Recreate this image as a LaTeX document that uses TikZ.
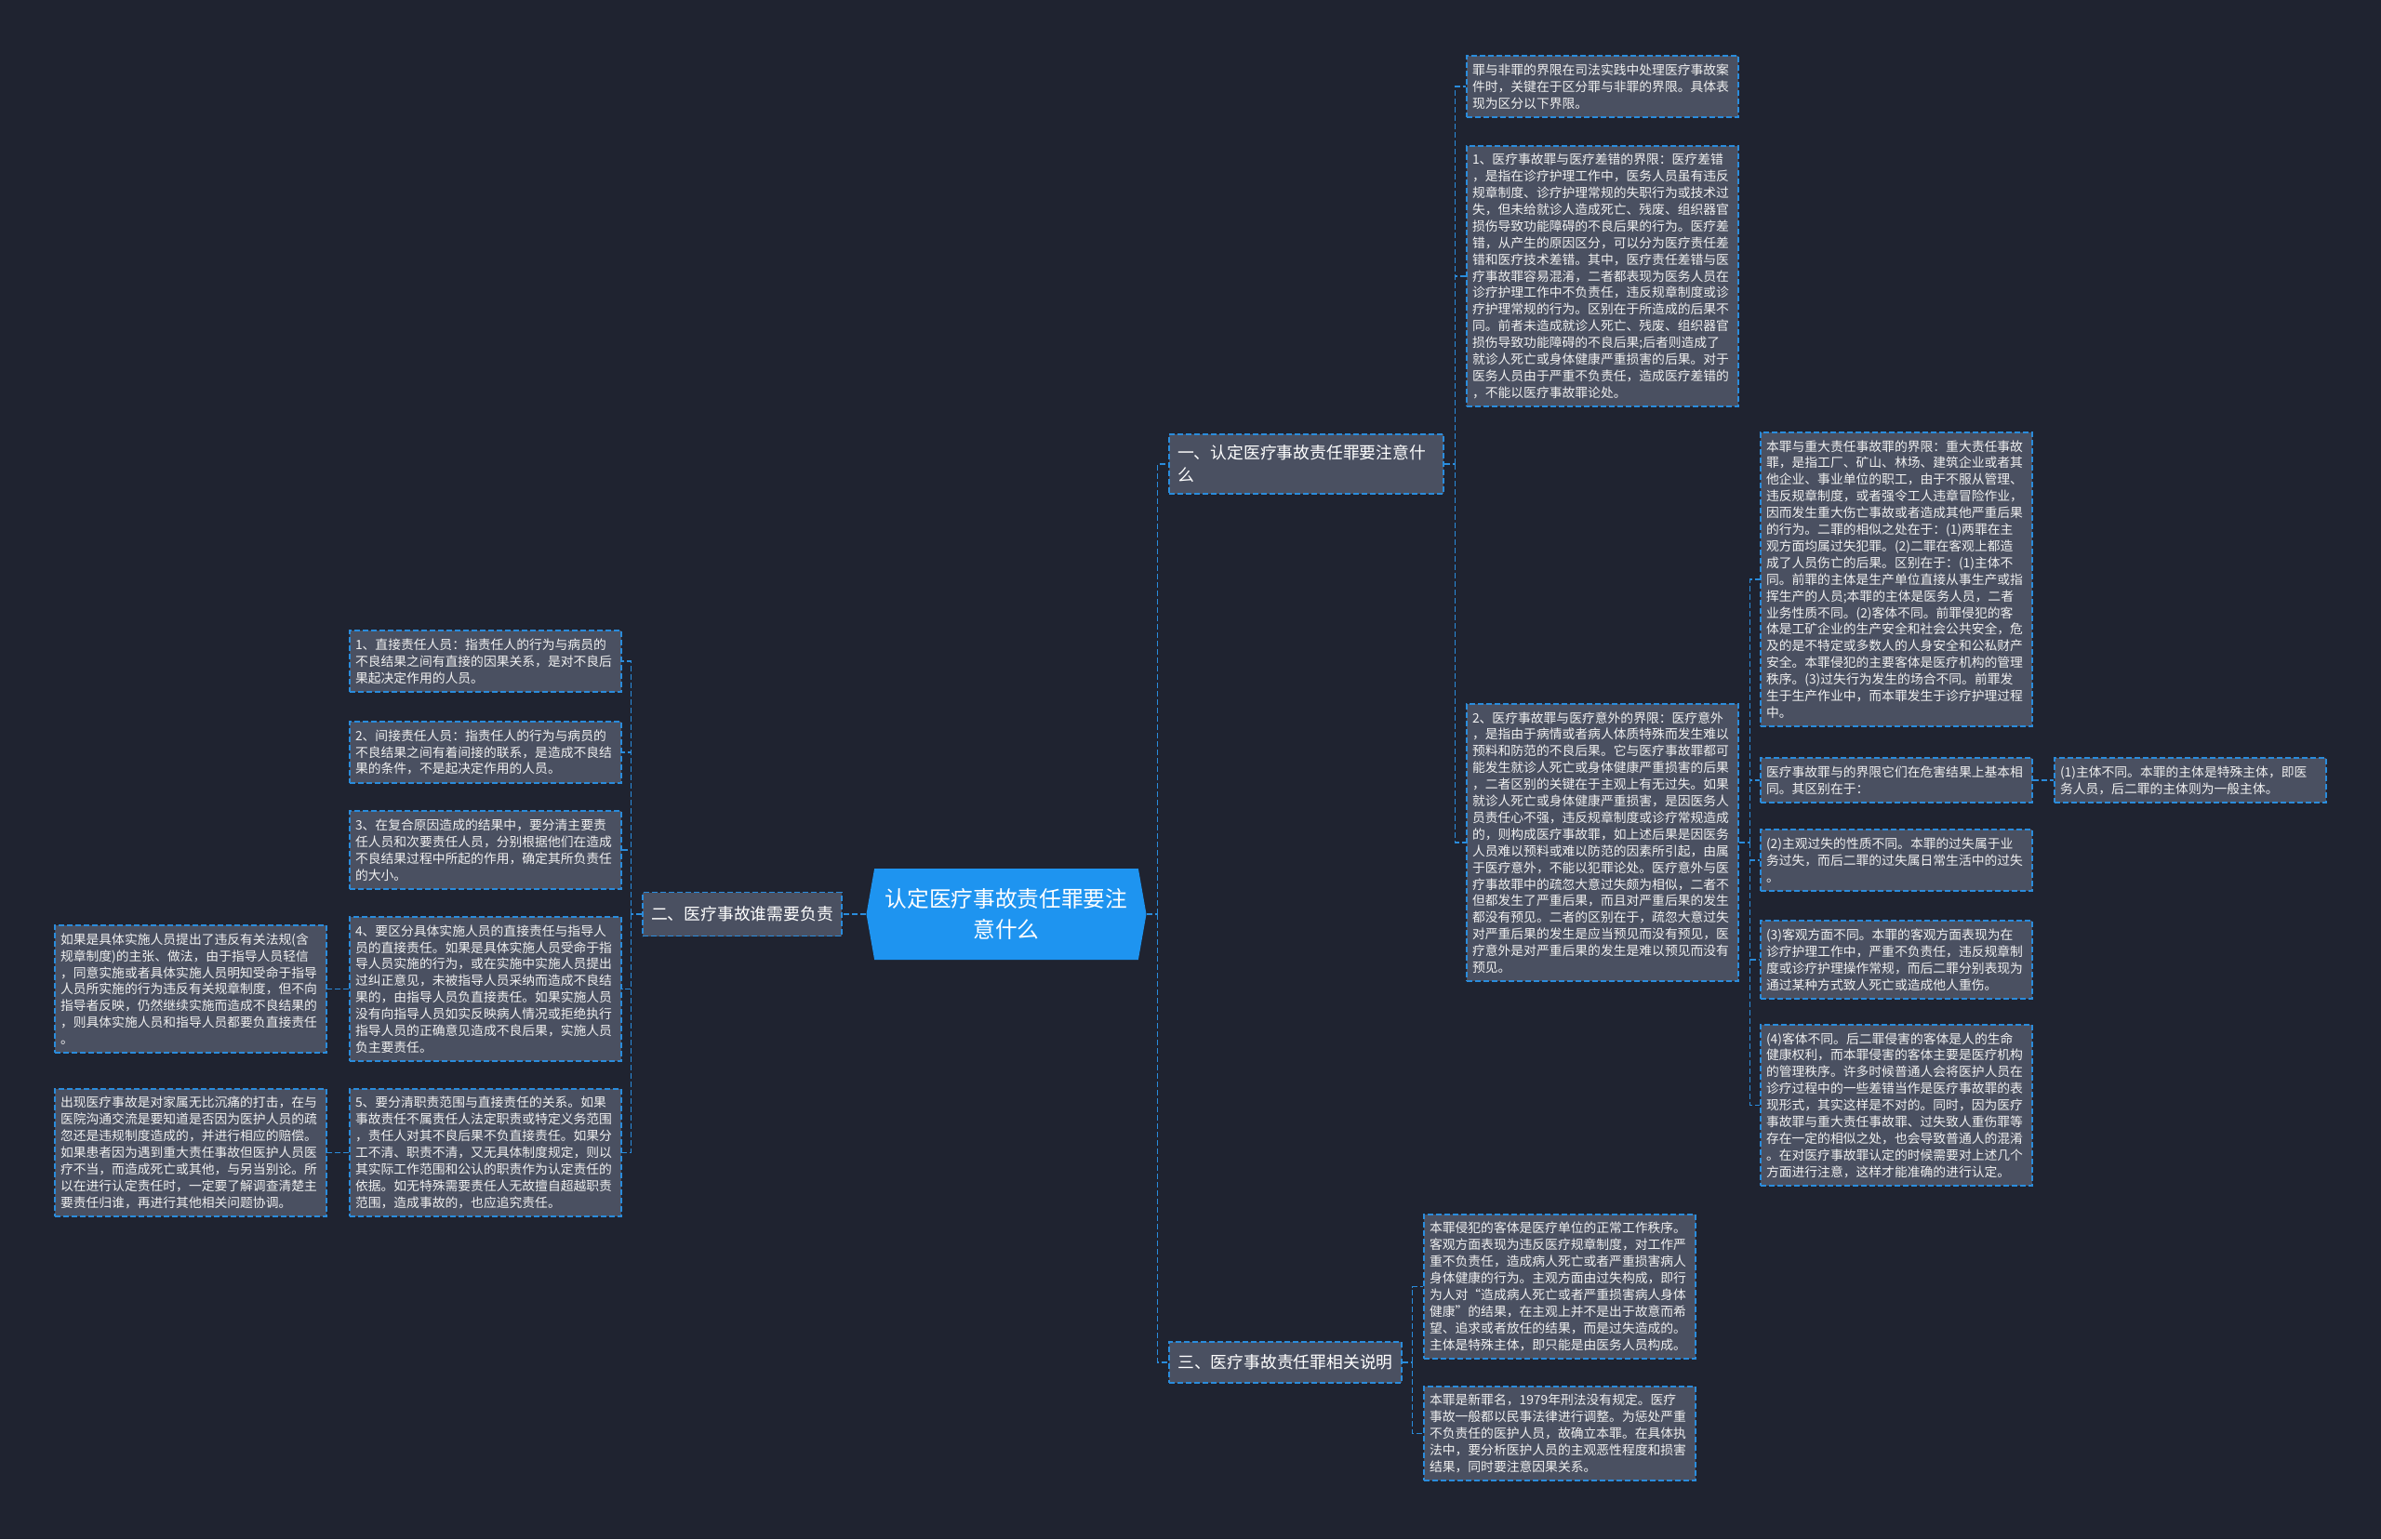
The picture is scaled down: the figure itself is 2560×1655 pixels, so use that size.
\documentclass[tikz,border=0pt]{standalone}
\usepackage{fontspec}
\setmainfont{Noto Sans CJK SC}
\usepackage{tikz}
\usetikzlibrary{shapes.symbols}
\definecolor{bgnavy}{RGB}{31,35,48}
\definecolor{boxgray}{RGB}{74,80,97}
\definecolor{linkblue}{RGB}{42,140,220}
\definecolor{rootblue}{RGB}{30,148,240}
\tikzset{
	leaf/.style={draw=linkblue, dash pattern=on 6pt off 3pt, line width=1.4pt, fill=boxgray, text=white!94!black,
		minimum width=292pt, text width=280pt, inner xsep=6pt, align=left,
		font=\fontsize{13.8pt}{17.9pt}\selectfont},
	branch/.style={draw=linkblue, dash pattern=on 6pt off 3pt, line width=1.4pt, fill=boxgray, text=white,
		inner xsep=9pt, align=left, font=\fontsize{17.8pt}{24pt}\selectfont},
	conn/.style={draw=linkblue, dash pattern=on 6pt off 3pt, line width=1.4pt}
}

\begin{document}
\begin{tikzpicture}[x=1pt,y=-1pt]
			%%%%% START %%%%%
			
			\fill[bgnavy] (0, 0) rectangle (2560, 1655);
			
			% centre
			\node[shape=signal, signal to=east and west, signal pointer angle=160, fill=rootblue, text=white,
				minimum width=301pt, minimum height=98pt, align=center,
				font=\fontsize{23.7pt}{33pt}\selectfont] (root) at (1082, 983) {认定医疗事故责任罪要注\\意什么};
			
			% branches
			\node[branch, minimum width=295pt, minimum height=64pt, text width=277pt] (b1) at (1404.5, 499) {一、认定医疗事故责任罪要注意什\\么};
			\node[branch, minimum width=214pt, minimum height=47pt] (b2) at (798, 983) {二、医疗事故谁需要负责};
			\node[branch, minimum width=250pt, minimum height=44pt] (b3) at (1382, 1465) {三、医疗事故责任罪相关说明};
			
			% branch one
			\node[leaf, minimum height=66pt] (p1) at (1723, 93) {罪与非罪的界限在司法实践中处理医疗事故案\\件时，关键在于区分罪与非罪的界限。具体表\\现为区分以下界限。};
			\node[leaf, minimum height=280pt] (p2) at (1723, 297) {1、医疗事故罪与医疗差错的界限：医疗差错\\，是指在诊疗护理工作中，医务人员虽有违反\\规章制度、诊疗护理常规的失职行为或技术过\\失，但未给就诊人造成死亡、残废、组织器官\\损伤导致功能障碍的不良后果的行为。医疗差\\错，从产生的原因区分，可以分为医疗责任差\\错和医疗技术差错。其中，医疗责任差错与医\\疗事故罪容易混淆，二者都表现为医务人员在\\诊疗护理工作中不负责任，违反规章制度或诊\\疗护理常规的行为。区别在于所造成的后果不\\同。前者未造成就诊人死亡、残废、组织器官\\损伤导致功能障碍的不良后果;后者则造成了\\就诊人死亡或身体健康严重损害的后果。对于\\医务人员由于严重不负责任，造成医疗差错的\\，不能以医疗事故罪论处。};
			\node[leaf, minimum height=298pt] (p3) at (1723, 906) {2、医疗事故罪与医疗意外的界限：医疗意外\\，是指由于病情或者病人体质特殊而发生难以\\预料和防范的不良后果。它与医疗事故罪都可\\能发生就诊人死亡或身体健康严重损害的后果\\，二者区别的关键在于主观上有无过失。如果\\就诊人死亡或身体健康严重损害，是因医务人\\员责任心不强，违反规章制度或诊疗常规造成\\的，则构成医疗事故罪，如上述后果是因医务\\人员难以预料或难以防范的因素所引起，由属\\于医疗意外，不能以犯罪论处。医疗意外与医\\疗事故罪中的疏忽大意过失颇为相似，二者不\\但都发生了严重后果，而且对严重后果的发生\\都没有预见。二者的区别在于，疏忽大意过失\\对严重后果的发生是应当预见而没有预见，医\\疗意外是对严重后果的发生是难以预见而没有\\预见。};
			
			\node[leaf, minimum height=316pt] (q1) at (2039, 623) {本罪与重大责任事故罪的界限：重大责任事故\\罪，是指工厂、矿山、林场、建筑企业或者其\\他企业、事业单位的职工，由于不服从管理、\\违反规章制度，或者强令工人违章冒险作业，\\因而发生重大伤亡事故或者造成其他严重后果\\的行为。二罪的相似之处在于：(1)两罪在主\\观方面均属过失犯罪。(2)二罪在客观上都造\\成了人员伤亡的后果。区别在于：(1)主体不\\同。前罪的主体是生产单位直接从事生产或指\\挥生产的人员;本罪的主体是医务人员，二者\\业务性质不同。(2)客体不同。前罪侵犯的客\\体是工矿企业的生产安全和社会公共安全，危\\及的是不特定或多数人的人身安全和公私财产\\安全。本罪侵犯的主要客体是医疗机构的管理\\秩序。(3)过失行为发生的场合不同。前罪发\\生于生产作业中，而本罪发生于诊疗护理过程\\中。};
			\node[leaf, minimum height=48pt] (q2) at (2039, 839) {医疗事故罪与的界限它们在危害结果上基本相\\同。其区别在于：};
			\node[leaf, minimum height=66pt] (q3) at (2039, 925) {(2)主观过失的性质不同。本罪的过失属于业\\务过失，而后二罪的过失属日常生活中的过失\\。};
			\node[leaf, minimum height=84pt] (q4) at (2039, 1032) {(3)客观方面不同。本罪的客观方面表现为在\\诊疗护理工作中，严重不负责任，违反规章制\\度或诊疗护理操作常规，而后二罪分别表现为\\通过某种方式致人死亡或造成他人重伤。};
			\node[leaf, minimum height=173pt] (q5) at (2039, 1188.5) {(4)客体不同。后二罪侵害的客体是人的生命\\健康权利，而本罪侵害的客体主要是医疗机构\\的管理秩序。许多时候普通人会将医护人员在\\诊疗过程中的一些差错当作是医疗事故罪的表\\现形式，其实这样是不对的。同时，因为医疗\\事故罪与重大责任事故罪、过失致人重伤罪等\\存在一定的相似之处，也会导致普通人的混淆\\。在对医疗事故罪认定的时候需要对上述几个\\方面进行注意，这样才能准确的进行认定。};
			\node[leaf, minimum height=48pt] (r1) at (2355, 839) {(1)主体不同。本罪的主体是特殊主体，即医\\务人员，后二罪的主体则为一般主体。};
			
			% branch three
			\node[leaf, minimum height=155pt] (t1) at (1677, 1383.5) {本罪侵犯的客体是医疗单位的正常工作秩序。\\客观方面表现为违反医疗规章制度，对工作严\\重不负责任，造成病人死亡或者严重损害病人\\身体健康的行为。主观方面由过失构成，即行\\为人对“造成病人死亡或者严重损害病人身体\\健康”的结果，在主观上并不是出于故意而希\\望、追求或者放任的结果，而是过失造成的。\\主体是特殊主体，即只能是由医务人员构成。};
			\node[leaf, minimum height=101pt] (t2) at (1677, 1541.5) {本罪是新罪名，1979年刑法没有规定。医疗\\事故一般都以民事法律进行调整。为惩处严重\\不负责任的医护人员，故确立本罪。在具体执\\法中，要分析医护人员的主观恶性程度和损害\\结果，同时要注意因果关系。};
			
			% branch two
			\node[leaf, minimum height=66pt] (s1) at (522, 711) {1、直接责任人员：指责任人的行为与病员的\\不良结果之间有直接的因果关系，是对不良后\\果起决定作用的人员。};
			\node[leaf, minimum height=66pt] (s2) at (522, 809) {2、间接责任人员：指责任人的行为与病员的\\不良结果之间有着间接的联系，是造成不良结\\果的条件，不是起决定作用的人员。};
			\node[leaf, minimum height=84pt] (s3) at (522, 914) {3、在复合原因造成的结果中，要分清主要责\\任人员和次要责任人员，分别根据他们在造成\\不良结果过程中所起的作用，确定其所负责任\\的大小。};
			\node[leaf, minimum height=155pt] (s4) at (522, 1063.5) {4、要区分具体实施人员的直接责任与指导人\\员的直接责任。如果是具体实施人员受命于指\\导人员实施的行为，或在实施中实施人员提出\\过纠正意见，未被指导人员采纳而造成不良结\\果的，由指导人员负直接责任。如果实施人员\\没有向指导人员如实反映病人情况或拒绝执行\\指导人员的正确意见造成不良后果，实施人员\\负主要责任。};
			\node[leaf, minimum height=137pt] (s5) at (522, 1239.5) {5、要分清职责范围与直接责任的关系。如果\\事故责任不属责任人法定职责或特定义务范围\\，责任人对其不良后果不负直接责任。如果分\\工不清、职责不清，又无具体制度规定，则以\\其实际工作范围和公认的职责作为认定责任的\\依据。如无特殊需要责任人无故擅自超越职责\\范围，造成事故的，也应追究责任。};
			\node[leaf, minimum height=137pt] (u1) at (205, 1063.5) {如果是具体实施人员提出了违反有关法规(含\\规章制度)的主张、做法，由于指导人员轻信\\，同意实施或者具体实施人员明知受命于指导\\人员所实施的行为违反有关规章制度，但不向\\指导者反映，仍然继续实施而造成不良结果的\\，则具体实施人员和指导人员都要负直接责任\\。};
			\node[leaf, minimum height=137pt] (u2) at (205, 1239.5) {出现医疗事故是对家属无比沉痛的打击，在与\\医院沟通交流是要知道是否因为医护人员的疏\\忽还是违规制度造成的，并进行相应的赔偿。\\如果患者因为遇到重大责任事故但医护人员医\\疗不当，而造成死亡或其他，与另当别论。所\\以在进行认定责任时，一定要了解调查清楚主\\要责任归谁，再进行其他相关问题协调。};
			
			% links
			\draw[conn] (root.east) -- ++(12, 0) coordinate (jr);
			\draw[conn] (jr) |- (b1.west);
			\draw[conn] (jr) |- (b3.west);
			\draw[conn] (root.west) -- (b2.east);
			
			\draw[conn] (b1.east) -- ++(12, 0) coordinate (j1);
			\foreach \n in {p1, p2, p3} \draw[conn] (j1) |- (\n.west);
			\draw[conn] (p3.east) -- ++(12, 0) coordinate (j2);
			\foreach \n in {q1, q2, q3, q4, q5} \draw[conn] (j2) |- (\n.west);
			\draw[conn] (q2.east) -- (r1.west);
			
			\draw[conn] (b3.east) -- ++(11, 0) coordinate (j3);
			\foreach \n in {t1, t2} \draw[conn] (j3) |- (\n.west);
			
			\draw[conn] (b2.west) -- ++(-12, 0) coordinate (j4);
			\foreach \n in {s1, s2, s3, s4, s5} \draw[conn] (j4) |- (\n.east);
			\draw[conn] (s4.west) -- (u1.east);
			\draw[conn] (s5.west) -- (u2.east);
			
			%%%%% END %%%%%
\end{tikzpicture}
\end{document}
